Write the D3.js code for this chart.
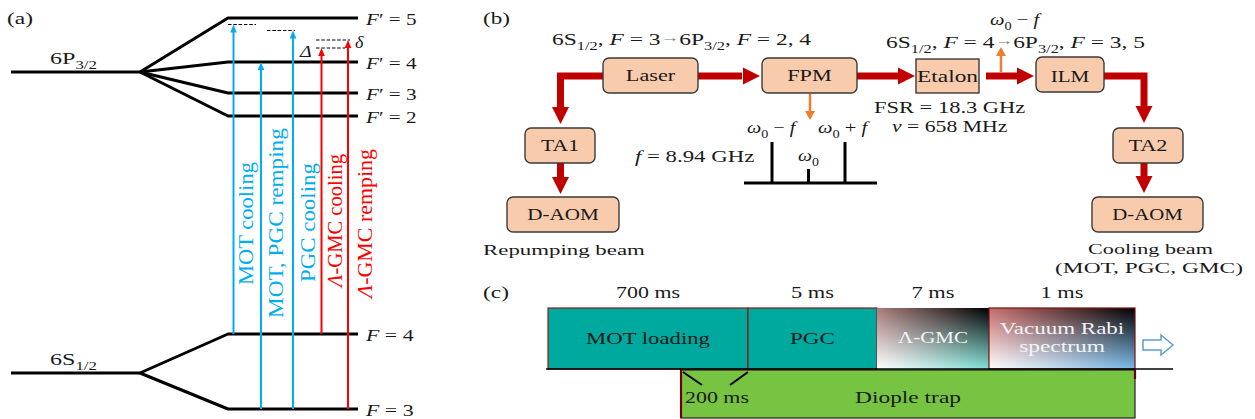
<!DOCTYPE html>
<html>
<head>
<meta charset="utf-8">
<script src="https://cdn.jsdelivr.net/npm/d3@7"></script>
<style>
  html, body { margin: 0; padding: 0; background: #fff; }
  svg text { font-family: "Liberation Serif", "Times New Roman", serif; white-space: pre; }
</style>
</head>
<body>
<svg id="fig" width="1255" height="419" font-family="Liberation Serif, serif"></svg>
<script>
// ---------- (a) Cs D2 hyperfine structure ----------
const upperLevels = ["5", "4", "3", "2"];          // F' of 6P3/2
const upperEnergy = [391, 347, 316, 293];          // schematic energy units
const lowerLevels = ["4", "3"];                    // F of 6S1/2
const lowerEnergy = [75, 0];
const termNames = [["6P", "3/2"], ["6S", "1/2"]];
const termEnergy = [337, 36];

const beamNames = ["MOT cooling", "MOT, PGC remping", "PGC cooling", "Λ-GMC cooling", "Λ-GMC remping"];
const beamStage = ["MOT", "MOT", "PGC", "GMC", "GMC"];
const beamFrom = [75, 0, 0, 75, 0];                // starting level energy
const beamTo = [384.5, 347, 378.5, 361, 369];      // detuned target energy
const detunedLevels = [384.5, 378.5, 369, 361];

// ---------- (b) laser system ----------
const boxNames = ["Laser", "FPM", "Etalon", "ILM", "TA1", "D-AOM", "TA2", "D-AOM"];
const sidebandOffset = [-1, 0, 1];                 // in units of f
const sidebandAmp = [1, 0.34, 1];
const modulationFreq = "8.94 GHz";
const etalonFSR = "18.3 GHz";
const etalonWidth = "658 MHz";

// ---------- (c) time sequence ----------
const phaseNames = ["MOT loading", "PGC", "Λ-GMC", "Vacuum Rabi spectrum"];
const phaseDurations = [700, 5, 7, 1];             // ms
const durationLabels = ["700 ms", "5 ms", "7 ms", "1 ms"];
const trapLead = 200;                              // ms before PGC starts
const trapName = "Diople trap";

const svg = d3.select("#fig");
const INK = "#1a1a1a";
const BLUE = "#00aeef", RED = "#ff0000", DARKRED = "#c00000", ORANGE = "#ed7d31";
const PEACH = "#f8cbad";

// rich text: parts are strings or {t, i, sub, rise, size, fill}
function label(parent, o) {
  const size = o.size || 16;
  const outer = parent.append("g")
    .attr("transform", `translate(${o.x},${o.y}) rotate(${o.rotate || 0})`);
  const inner = outer.append("g");
  const t = inner.append("text")
    .attr("font-size", size)
    .attr("text-anchor", o.anchor || "start")
    .attr("fill", o.fill || INK);
  let shift = 0;
  (o.parts || [o.text]).forEach(p => {
    if (typeof p === "string") p = { t: p };
    const ts = t.append("tspan").text(p.t);
    const target = p.sub ? size * 0.28 : (p.rise || 0);
    if (target !== shift) { ts.attr("dy", target - shift); shift = target; }
    if (p.sub) ts.attr("font-size", size * 0.7);
    if (p.size) ts.attr("font-size", size * p.size);
    if (p.i) ts.attr("font-style", "italic");
    if (p.fill) ts.attr("fill", p.fill);
  });
  if (o.width) {
    const w = t.node().getBBox().width;
    if (w > 0) inner.attr("transform", `scale(${o.width / w},1)`);
  }
  return outer;
}

function arrowHead(parent, x, y, dir, len, half, colour) {
  // dir: "right" | "down" | "up"; (x,y) is the tip
  let pts;
  if (dir === "right") pts = [[x - len, y - half], [x, y], [x - len, y + half]];
  else if (dir === "down") pts = [[x - half, y - len], [x, y], [x + half, y - len]];
  else pts = [[x - half, y + len], [x, y], [x + half, y + len]];
  parent.append("path").attr("d", "M" + pts.map(p => p.join(",")).join("L") + "Z")
    .attr("fill", colour);
}

// =================== panel (a) ===================
const pa = svg.append("g");
const yE = d3.scaleLinear().domain([0, 391]).range([409, 18]);
const xBranch = 140, xSplit = 228, xEnd = 358, xTerm = 11;

label(pa, { x: 7, y: 24, text: "(a)", size: 16, width: 26 });

// fine-structure terms and their hyperfine fans
const fans = [
  { term: 0, levels: upperEnergy },
  { term: 1, levels: lowerEnergy }
];
fans.forEach(f => {
  const yc = yE(termEnergy[f.term]);
  pa.append("line").attr("x1", xTerm).attr("x2", xBranch).attr("y1", yc).attr("y2", yc)
    .attr("stroke", "#000").attr("stroke-width", 3);
  f.levels.forEach(e => {
    pa.append("path")
      .attr("d", `M${xBranch},${yc}L${xSplit},${yE(e)}H${xEnd}`)
      .attr("fill", "none").attr("stroke", "#000").attr("stroke-width", 3)
      .attr("stroke-linejoin", "round");
  });
  const [base, sub] = termNames[f.term];
  label(pa, { x: 50, y: yc - 8, parts: [base, { t: sub, sub: true }], size: 17, width: 47 });
});

upperLevels.forEach((F, i) => {
  label(pa, { x: 366, y: yE(upperEnergy[i]) + 7, parts: [{ t: "F", i: true }, "′ = " + F], size: 16.5, width: 52 });
});
lowerLevels.forEach((F, i) => {
  label(pa, { x: 366, y: yE(lowerEnergy[i]) + 7, parts: [{ t: "F", i: true }, " = " + F], size: 16.5, width: 49 });
});

// detuned virtual levels
const dashSpan = [[228, 256], [267, 295], [316, 350], [316, 345]];
detunedLevels.forEach((e, i) => {
  pa.append("line").attr("x1", dashSpan[i][0]).attr("x2", dashSpan[i][1])
    .attr("y1", yE(e)).attr("y2", yE(e))
    .attr("stroke", "#000").attr("stroke-width", 1.1).attr("stroke-dasharray", "3.5,1.8");
});
label(pa, { x: 300, y: yE(detunedLevels[3]) + 9, parts: [{ t: "Δ", i: true }], size: 16, width: 13 });
label(pa, { x: 355, y: 48, parts: [{ t: "δ", i: true }], size: 16, width: 9 });

// laser beams
const xBeam = d3.scaleOrdinal().domain(beamNames).range([233.5, 261, 293, 321.5, 348]);
const beamColour = s => (s === "GMC" ? RED : BLUE);
const beamLabelLayout = [
  { dx: 19.5, start: 285, len: 123 },
  { dx: 22, start: 318, len: 190 },
  { dx: 22, start: 282, len: 119 },
  { dx: 20.5, start: 287, len: 135 },
  { dx: 24, start: 298, len: 151 }
];
beamNames.forEach((b, i) => {
  const x = xBeam(b), c = beamColour(beamStage[i]);
  const yTip = yE(beamTo[i]);
  pa.append("line").attr("x1", x).attr("x2", x)
    .attr("y1", yE(beamFrom[i])).attr("y2", yTip + 6)
    .attr("stroke", c).attr("stroke-width", 2);
  arrowHead(pa, x, yTip, "up", 8, 3.3, c);
  const L = beamLabelLayout[i];
  const parts = b.startsWith("Λ") ? [{ t: "Λ", i: true }, b.slice(1)] : [b];
  label(pa, { x: x + L.dx, y: L.start, rotate: -90, parts, size: 22, width: L.len, fill: c });
});

// =================== panel (b) ===================
const pb = svg.append("g");
label(pb, { x: 483, y: 24, text: "(b)", size: 16, width: 27 });

const arrowGlyph = { t: "→", size: 0.8, fill: "#7a7a7a", rise: -3.5 };
label(pb, {
  x: 552, y: 45, size: 17, width: 260,
  parts: ["6S", { t: "1/2", sub: true }, ", ", { t: "F", i: true }, " = 3", arrowGlyph,
    "6P", { t: "3/2", sub: true }, ", ", { t: "F", i: true }, " = 2, 4"]
});
label(pb, {
  x: 886, y: 48, size: 17, width: 259,
  parts: ["6S", { t: "1/2", sub: true }, ", ", { t: "F", i: true }, " = 4", arrowGlyph,
    "6P", { t: "3/2", sub: true }, ", ", { t: "F", i: true }, " = 3, 5"]
});

// component boxes
const boxLayout = [
  { x: 603, y: 58, w: 95, h: 35, r: 6, ty: 81, tw: 50 },
  { x: 762, y: 58, w: 95, h: 35, r: 6, ty: 81, tw: 45 },
  { x: 916, y: 59, w: 63, h: 34, r: 0, ty: 82, tw: 61 },
  { x: 1036, y: 57, w: 68, h: 35, r: 6, ty: 82, tw: 39 },
  { x: 525, y: 128, w: 70, h: 35, r: 6, ty: 151, tw: 38 },
  { x: 507, y: 197, w: 112, h: 35, r: 6, ty: 220, tw: 72 },
  { x: 1113, y: 128, w: 70, h: 35, r: 6, ty: 151, tw: 39 },
  { x: 1092, y: 197, w: 111, h: 35, r: 6, ty: 220, tw: 71 }
];

// red beam paths (drawn below boxes)
const beamPaths = [
  { d: "M698,76H742", tip: [760, 76], dir: "right" },
  { d: "M603,76H560.5V108", tip: [560.5, 124], dir: "down" },
  { d: "M560.5,163V178", tip: [560.5, 194], dir: "down" },
  { d: "M857,76H899", tip: [915, 76], dir: "right" },
  { d: "M986,76H1017", tip: [1034, 76], dir: "right" },
  { d: "M1104,76H1144V108", tip: [1144, 123], dir: "down" },
  { d: "M1144,163V178", tip: [1144, 193], dir: "down" }
];
beamPaths.forEach(p => {
  pb.append("path").attr("d", p.d).attr("fill", "none")
    .attr("stroke", DARKRED).attr("stroke-width", 7).attr("stroke-linejoin", "miter");
  arrowHead(pb, p.tip[0], p.tip[1], p.dir, 17, 8.5, DARKRED);
});

boxNames.forEach((n, i) => {
  const b = boxLayout[i];
  pb.append("rect").attr("x", b.x).attr("y", b.y).attr("width", b.w).attr("height", b.h)
    .attr("rx", b.r).attr("fill", PEACH).attr("stroke", "#3a3a3a").attr("stroke-width", 1.4);
  label(pb, { x: b.x + b.w / 2, y: b.ty, text: n, anchor: "middle", size: 16.5, width: b.tw });
});

// picked-off beams
pb.append("line").attr("x1", 810).attr("x2", 810).attr("y1", 94).attr("y2", 111)
  .attr("stroke", ORANGE).attr("stroke-width", 2.5);
arrowHead(pb, 810, 120, "down", 9, 5, ORANGE);
pb.append("line").attr("x1", 1001).attr("x2", 1001).attr("y1", 72).attr("y2", 55)
  .attr("stroke", ORANGE).attr("stroke-width", 2.5);
arrowHead(pb, 1001, 47, "up", 9, 5, ORANGE);
label(pb, { x: 990, y: 25, size: 17, width: 52, parts: [{ t: "ω", i: true }, { t: "0", sub: true }, " − ", { t: "f", i: true }] });

// EOM sideband spectrum
const xF = d3.scaleLinear().domain([-1, 1]).range([772, 845]);
const yA = d3.scaleLinear().domain([0, 1]).range([183, 142]);
pb.append("line").attr("x1", 744).attr("x2", 877).attr("y1", yA(0)).attr("y2", yA(0))
  .attr("stroke", "#000").attr("stroke-width", 3);
sidebandOffset.forEach((o, i) => {
  pb.append("line").attr("x1", xF(o)).attr("x2", xF(o)).attr("y1", yA(0)).attr("y2", yA(sidebandAmp[i]))
    .attr("stroke", "#000").attr("stroke-width", 3);
});
const sideLabel = [
  { x: 747, y: 133, w: 51, parts: [{ t: "ω", i: true }, { t: "0", sub: true }, " − ", { t: "f", i: true }] },
  { x: 798, y: 161, w: 21, parts: [{ t: "ω", i: true }, { t: "0", sub: true }] },
  { x: 818, y: 133, w: 52, parts: [{ t: "ω", i: true }, { t: "0", sub: true }, " + ", { t: "f", i: true }] }
];
sidebandOffset.forEach((o, i) => {
  const s = sideLabel[i];
  label(pb, { x: s.x, y: s.y, parts: s.parts, size: 17, width: s.w });
});
label(pb, { x: 635, y: 162, size: 17, width: 120, parts: [{ t: "f", i: true }, " = " + modulationFreq] });
label(pb, { x: 874, y: 113, size: 17, width: 152, parts: ["FSR = " + etalonFSR] });
label(pb, { x: 892, y: 132, size: 17, width: 116, parts: [{ t: "ν", i: true }, " = " + etalonWidth] });

label(pb, { x: 483, y: 255, text: "Repumping beam", size: 15.5, width: 162 });
label(pb, { x: 1150.5, y: 254, text: "Cooling beam", anchor: "middle", size: 15.5, width: 125 });
label(pb, { x: 1149, y: 273, text: "(MOT, PGC, GMC)", anchor: "middle", size: 15.5, width: 188 });

// =================== panel (c) ===================
const pc = svg.append("g");
label(pc, { x: 483, y: 298, text: "(c)", size: 16, width: 26 });

const tEdges = [0, ...d3.cumsum(phaseDurations)];
const tTotal = tEdges[tEdges.length - 1];
const trapStart = tEdges[1] - trapLead;
const xT = d3.scaleLinear()
  .domain([0, trapStart, ...tEdges.slice(1)])
  .range([548, 681, 748, 877, 989, 1135]);
const yTop = 308, yMid = 369, yBot = 418;

const defs = svg.append("defs");
// four-corner colour wash: top row gradient, bottom row gradient faded in vertically
const washes = [
  { id: "gmc", tl: "#a87c7c", tr: "#000000", bl: "#ffffff", br: "#7fe0d6" },
  { id: "vrs", tl: "#c86e6e", tr: "#000000", bl: "#ffffff", br: "#78b8e8" }
];
washes.forEach(w => {
  const top = defs.append("linearGradient").attr("id", w.id + "-top");
  top.append("stop").attr("offset", 0).attr("stop-color", w.tl);
  top.append("stop").attr("offset", 1).attr("stop-color", w.tr);
  const bot = defs.append("linearGradient").attr("id", w.id + "-bot");
  bot.append("stop").attr("offset", 0).attr("stop-color", w.bl);
  bot.append("stop").attr("offset", 1).attr("stop-color", w.br);
});
const fade = defs.append("linearGradient").attr("id", "fade").attr("x1", 0).attr("x2", 0).attr("y1", 0).attr("y2", 1);
fade.append("stop").attr("offset", 0).attr("stop-color", "#000");
fade.append("stop").attr("offset", 1).attr("stop-color", "#fff");
const mask = defs.append("mask").attr("id", "fadeMask")
  .attr("maskContentUnits", "objectBoundingBox");
mask.append("rect").attr("width", 1).attr("height", 1).attr("fill", "url(#fade)");

const phaseStyle = [
  { fill: "#00a99d", stroke: "#8b1a1a", text: INK },
  { fill: "#00a99d", stroke: "#8b1a1a", text: INK },
  { wash: "gmc", stroke: "none", text: "#f4f4f4" },
  { wash: "vrs", stroke: "#7a1010", text: "#f4f4f4" }
];
const phaseTextW = [[124], [45], [70], [125, 86]];
const phaseTextY = [[344], [344], [343], [334, 352]];
const durationW = [64, 43, 43, 43];

phaseNames.forEach((name, i) => {
  const x0 = xT(tEdges[i]), x1 = xT(tEdges[i + 1]), st = phaseStyle[i];
  const g = pc.append("g");
  if (st.wash) {
    g.append("rect").attr("x", x0).attr("y", yTop).attr("width", x1 - x0).attr("height", yMid - yTop)
      .attr("fill", `url(#${st.wash}-top)`);
    g.append("rect").attr("x", x0).attr("y", yTop).attr("width", x1 - x0).attr("height", yMid - yTop)
      .attr("fill", `url(#${st.wash}-bot)`).attr("mask", "url(#fadeMask)");
    g.append("rect").attr("x", x0).attr("y", yTop).attr("width", x1 - x0).attr("height", yMid - yTop)
      .attr("fill", "none").attr("stroke", st.stroke).attr("stroke-width", 1.2);
  } else {
    g.append("rect").attr("x", x0).attr("y", yTop).attr("width", x1 - x0).attr("height", yMid - yTop)
      .attr("fill", st.fill).attr("stroke", st.stroke).attr("stroke-width", 1.2);
  }
  const cx = (x0 + x1) / 2;
  const lines = name === "Vacuum Rabi spectrum" ? ["Vacuum Rabi", "spectrum"] : [name];
  lines.forEach((ln, j) => {
    const parts = ln.startsWith("Λ") ? ["Λ", ln.slice(1)] : [ln];
    label(pc, { x: cx, y: phaseTextY[i][j], parts, anchor: "middle", size: 16.5, width: phaseTextW[i][j], fill: st.text });
  });
  label(pc, { x: cx, y: 298, text: durationLabels[i], anchor: "middle", size: 16, width: durationW[i] });
});

// dipole trap
const xs = xT(trapStart), xe = xT(tTotal);
pc.append("rect").attr("x", xs).attr("y", yMid + 1).attr("width", xe - xs).attr("height", yBot - yMid - 1)
  .attr("fill", "#77c443").attr("stroke", "#222").attr("stroke-width", 1.2);
pc.append("line").attr("x1", xs).attr("x2", xs).attr("y1", yMid + 1).attr("y2", yBot)
  .attr("stroke", "#6b0000").attr("stroke-width", 2.2);
pc.append("line").attr("x1", xe).attr("x2", xe).attr("y1", yMid + 1).attr("y2", yMid + 10)
  .attr("stroke", "#6b0000").attr("stroke-width", 2.2);
label(pc, { x: (xs + xe) / 2, y: 403, text: trapName, anchor: "middle", size: 16.5, width: 106 });

// 200 ms overlap bracket
const xPGC = xT(tEdges[1]);
pc.append("path").attr("d", `M${xs + 2},372L${xs + 21},385M${xPGC - 18},385L${xPGC},372`)
  .attr("fill", "none").attr("stroke", "#000").attr("stroke-width", 2);
label(pc, { x: xs + 4, y: 403, text: trapLead + " ms", size: 16.5, width: 64 });

// time axis baseline and continuation arrow
pc.append("line").attr("x1", 546).attr("x2", 1173).attr("y1", yMid).attr("y2", yMid)
  .attr("stroke", "#000").attr("stroke-width", 1.5);
const ax = xe + 8;
pc.append("path")
  .attr("d", `M${ax},340H${ax + 18}V335L${ax + 30},345L${ax + 18},355V350H${ax}Z`)
  .attr("fill", "#fff").attr("stroke", "#5b9bd5").attr("stroke-width", 1.5);
</script>
</body>
</html>
